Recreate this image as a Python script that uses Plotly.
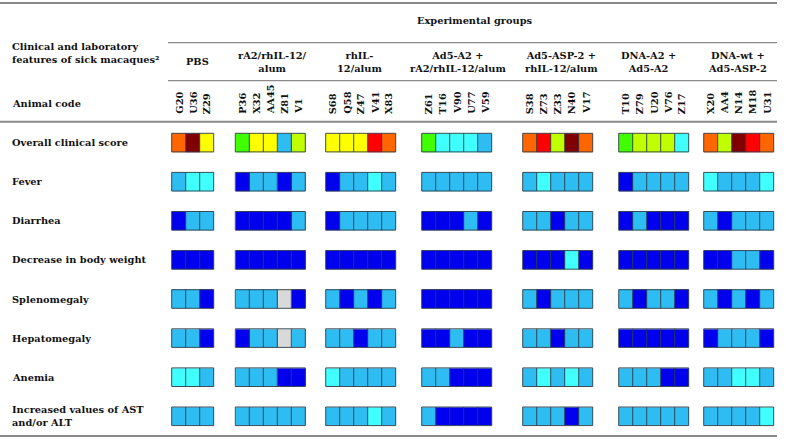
import math
import plotly.graph_objects as go

# ---------------- data ----------------
groups = ["PBS", "rA2/rhIL-12/<br>alum", "rhIL-<br>12/alum", "Ad5-A2 +<br>rA2/rhIL-12/alum",
          "Ad5-ASP-2 +<br>rhIL-12/alum", "DNA-A2 +<br>Ad5-A2", "DNA-wt +<br>Ad5-ASP-2"]
animals = [["G20", "U36", "Z29"],
           ["P36", "X32", "AA45", "Z81", "V1"],
           ["S68", "Q58", "Z47", "V41", "X83"],
           ["Z61", "T16", "V90", "U77", "V59"],
           ["S38", "Z73", "Z33", "N40", "V17"],
           ["T10", "Z79", "U20", "V76", "Z17"],
           ["X20", "AA4", "N14", "M18", "U31"]]
features = ["Overall clinical score", "Fever", "Diarrhea", "Decrease in body weight",
            "Splenomegaly", "Hepatomegaly", "Anemia", "Increased values of AST<br>and/or ALT"]

# ordinal level codes (0 = lowest ... 8 = highest), None = not determined
overall_score = [[6, 8, 5], [3, 5, 5, 1, 4], [5, 5, 5, 7, 6], [3, 2, 2, 2, 1],
                 [6, 7, 4, 8, 6], [3, 4, 4, 4, 2], [6, 4, 8, 7, 6]]
fever = [[1, 2, 2], [0, 1, 1, 0, 1], [0, 1, 1, 2, 1], [1, 1, 1, 1, 1],
         [1, 2, 1, 1, 1], [0, 1, 1, 1, 1], [2, 1, 1, 1, 2]]
diarrhea = [[0, 1, 1], [0, 0, 0, 0, 1], [0, 1, 1, 1, 1], [0, 0, 0, 1, 0],
            [1, 1, 0, 1, 1], [0, 1, 0, 0, 0], [1, 0, 1, 1, 1]]
weight_loss = [[0, 0, 0], [0, 0, 0, 0, 0], [0, 0, 0, 0, 0], [0, 0, 0, 0, 0],
               [0, 0, 0, 2, 0], [0, 0, 0, 0, 0], [0, 0, 1, 1, 0]]
splenomegaly = [[1, 1, 0], [1, 1, 1, None, 0], [1, 0, 1, 0, 1], [0, 0, 0, 0, 0],
                [1, 0, 1, 1, 1], [1, 0, 1, 1, 0], [1, 0, 1, 0, 1]]
hepatomegaly = [[1, 1, 0], [0, 1, 1, None, 1], [1, 1, 0, 1, 1], [0, 0, 1, 0, 0],
                [1, 1, 0, 1, 1], [0, 0, 0, 0, 0], [0, 1, 1, 1, 0]]
anemia = [[2, 2, 1], [1, 1, 1, 0, 0], [2, 1, 1, 1, 1], [1, 1, 0, 0, 0],
          [1, 2, 1, 2, 1], [1, 1, 1, 0, 0], [1, 1, 2, 2, 1]]
ast_alt = [[1, 1, 1], [1, 1, 1, 1, 1], [1, 1, 1, 2, 1], [1, 0, 0, 0, 0],
           [1, 1, 1, 0, 1], [1, 1, 1, 1, 1], [1, 1, 1, 1, 2]]
table = [overall_score, fever, diarrhea, weight_loss, splenomegaly, hepatomegaly, anemia, ast_alt]

# ---------------- layout / style ----------------
W, H = 786, 441
cell_w, cell_h = 14.0, 18.6
group_x0 = [171.7, 235.3, 325.7, 421.7, 522.7, 618.7, 703.7]
header_x = [197, 272, 359, 458, 561, 648, 737]
row_y0, row_pitch = 133.3, 39.1
level_colors = ["#D9D9D9", "#0000EE", "#2DBDF3", "#40FFFF", "#40FF00", "#BFFF00",
                "#FFFF00", "#FF6600", "#FF0000", "#800000"]
border = "rgba(45,60,70,0.9)"
rule = "#8a8a8a"
FONT = "DejaVu Serif"
FS = 9.8

# x edges / y edges (gaps between groups / rows become empty bricks)
xe = []
for g, names in enumerate(animals):
    for i in range(len(names) + 1):
        xe.append(group_x0[g] + i * cell_w)
ye = []
for r in range(len(features)):
    ye += [row_y0 + r * row_pitch, row_y0 + r * row_pitch + cell_h]

z = []
for r, feat_vals in enumerate(table):
    row = []
    for g, vals in enumerate(feat_vals):
        for v in vals:
            row.append(-1 if v is None else v)
        if g < len(feat_vals) - 1:
            row.append(math.nan)
    z.append(row)
    if r < len(table) - 1:
        z.append([math.nan] * len(row))

n = len(level_colors)
cs = []
for k, c in enumerate(level_colors):
    cs += [[k / n, c], [(k + 1) / n, c]]

fig = go.Figure()
fig.add_trace(go.Heatmap(x=xe, y=ye, z=z, zmin=-1, zmax=8, colorscale=cs,
                         showscale=False, hoverinfo="skip"))

# cell borders
bx, by = [], []
for r in range(len(features)):
    y0 = row_y0 + r * row_pitch
    y1 = y0 + cell_h
    for g, names in enumerate(animals):
        x0 = group_x0[g]
        x1 = x0 + len(names) * cell_w
        bx += [x0, x1, x1, x0, x0, None]
        by += [y0, y0, y1, y1, y0, None]
        for i in range(1, len(names)):
            xx = x0 + i * cell_w
            bx += [xx, xx, None]
            by += [y0, y1, None]
fig.add_trace(go.Scatter(x=bx, y=by, mode="lines", line=dict(color=border, width=1),
                         hoverinfo="skip", showlegend=False))

ann = []
def txt(x, y, s, xa="left", ya="middle", angle=0, align="left"):
    ann.append(dict(x=x, y=y, text=s, xref="x", yref="y", showarrow=False,
                    xanchor=xa, yanchor=ya, textangle=angle, align=align,
                    font=dict(family=FONT, size=FS, color="#111", weight="bold")))

txt(10, 53, "Clinical and laboratory<br>features of sick macaques²")
txt(475, 20, "Experimental groups", xa="center")
for g, lab in enumerate(groups):
    txt(header_x[g], 61.7, lab, xa="center", align="center")
txt(10, 103, "Animal code")
for g, names in enumerate(animals):
    for i, nm in enumerate(names):
        txt(group_x0[g] + (i + 0.5) * cell_w, 116, nm, xa="center", ya="bottom", angle=-90)
for r, f in enumerate(features):
    txt(10, row_y0 + r * row_pitch + cell_h / 2, f)

shapes = [
    dict(type="line", x0=0, x1=777, y0=3, y1=3, line=dict(color=rule, width=2)),
    dict(type="line", x0=168, x1=777, y0=42.7, y1=42.7, line=dict(color=rule, width=1.2)),
    dict(type="line", x0=168, x1=777, y0=80.7, y1=80.7, line=dict(color=rule, width=1.2)),
    dict(type="line", x0=0, x1=777, y0=121.7, y1=121.7, line=dict(color=rule, width=2)),
    dict(type="line", x0=0, x1=777, y0=436, y1=436, line=dict(color=rule, width=2)),
]
for s in shapes:
    s.update(xref="x", yref="y", layer="above")

fig.update_layout(
    width=W, height=H, margin=dict(l=0, r=0, t=0, b=0),
    paper_bgcolor="white", plot_bgcolor="white",
    xaxis=dict(range=[0, W], visible=False, fixedrange=True),
    yaxis=dict(range=[H, 0], visible=False, fixedrange=True),
    annotations=ann, shapes=shapes, showlegend=False,
)
fig.write_html("out.html", config={"displayModeBar": False},
               post_script="document.body.style.margin='0';document.body.style.overflow='hidden';")
